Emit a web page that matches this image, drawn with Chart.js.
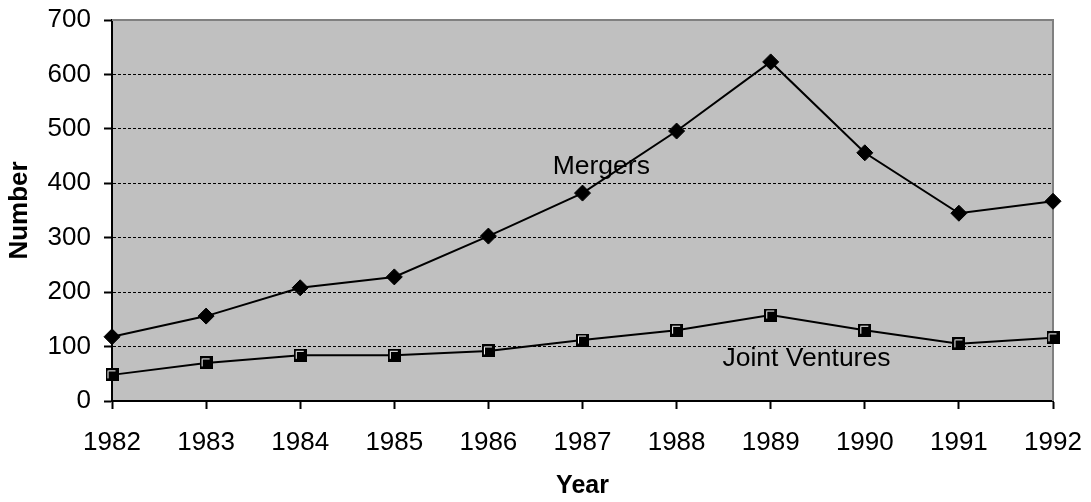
<!DOCTYPE html>
<html>
<head>
<meta charset="utf-8">
<script src="https://cdn.jsdelivr.net/npm/chart.js@4"></script>
<style>
  html, body { margin: 0; padding: 0; background: #fff; }
  #wrap { width: 1091px; height: 502px; }
</style>
</head>
<body>
<div id="wrap"><canvas id="chart" width="1091" height="502"></canvas></div>
<script>
// data
const years = ["1982", "1983", "1984", "1985", "1986", "1987", "1988", "1989", "1990", "1991", "1992"];
const mergers = [118, 156, 208, 228, 303, 382, 496, 623, 456, 345, 367];
const jointVentures = [48, 70, 84, 84, 92, 112, 130, 158, 130, 105, 116];
const yTicks = [0, 100, 200, 300, 400, 500, 600, 700];

// in-plot labels: [text, category index, value]
const seriesLabels = [
    ["Mergers", 5.2, 430],
    ["Joint Ventures", 7.38, 77]
];

const FONT = "Arial, 'Liberation Sans', sans-serif";

// square marker: black box with a white inner corner line
function squareMarker() {
    const c = document.createElement("canvas");
    c.width = 13;
    c.height = 13;
    const g = c.getContext("2d");
    g.fillStyle = "#000";
    g.fillRect(0, 0, 13, 13);
    g.strokeStyle = "#fff";
    g.lineWidth = 1;
    g.beginPath();
    g.moveTo(2.5, 10);
    g.lineTo(2.5, 2.5);
    g.lineTo(10, 2.5);
    g.stroke();
    return c;
}

const plotArea = {
    id: "plotArea",
    beforeDraw(chart) {
        const a = chart.chartArea;
        const ctx = chart.ctx;
        ctx.save();
        ctx.fillStyle = "#c0c0c0";
        ctx.fillRect(a.left, a.top, a.right - a.left, a.bottom - a.top);
        ctx.restore();
    },
    beforeDatasetsDraw(chart) {
        const a = chart.chartArea;
        const ctx = chart.ctx;
        ctx.save();
        ctx.strokeStyle = "#808080";
        ctx.lineWidth = 2;
        ctx.beginPath();
        ctx.moveTo(a.left, a.top);
        ctx.lineTo(a.right, a.top);
        ctx.lineTo(a.right, a.bottom);
        ctx.stroke();
        ctx.restore();
    },
    afterDatasetsDraw(chart) {
        const ctx = chart.ctx;
        const xs = chart.scales.x, ys = chart.scales.y;
        ctx.save();
        ctx.fillStyle = "#000";
        ctx.font = "26.5px " + FONT;
        ctx.textAlign = "center";
        ctx.textBaseline = "middle";
        seriesLabels.forEach(function(l) {
            ctx.fillText(l[0], xs.getPixelForValue(l[1]), ys.getPixelForValue(l[2]));
        });
        ctx.restore();
    }
};

const ctx = document.getElementById("chart").getContext("2d");

const data = {
    labels: years,
    datasets: [
        {
            label: "Mergers",
            data: mergers,
            borderColor: "#000",
            backgroundColor: "#000",
            borderWidth: 2,
            pointStyle: "rectRot",
            pointRadius: 8,
            pointBorderWidth: 1,
            tension: 0
        },
        {
            label: "Joint Ventures",
            data: jointVentures,
            borderColor: "#000",
            backgroundColor: "#000",
            borderWidth: 2,
            pointStyle: squareMarker(),
            pointRadius: 7,
            tension: 0
        }
    ]
};

const options = {
    responsive: false,
    animation: false,
    layout: { padding: { left: 0, right: 38, top: 20, bottom: 0 } },
    plugins: {
        legend: { display: false },
        tooltip: { enabled: false }
    },
    scales: {
        x: {
            type: "category",
            offset: false,
            afterFit: function(s) {
                s.height = 101;
                s.paddingLeft = 0;
                s.paddingRight = 0;
            },
            grid: {
                drawOnChartArea: false,
                drawTicks: true,
                tickLength: 8,
                tickWidth: 2,
                tickColor: "#000",
                offset: false
            },
            border: { display: true, color: "#000", width: 2 },
            ticks: {
                color: "#000",
                font: { family: FONT, size: 26 },
                padding: 18,
                maxRotation: 0,
                autoSkip: false
            },
            title: {
                display: true,
                text: "Year",
                color: "#000",
                font: { family: FONT, size: 25, weight: "bold" },
                padding: { top: 0, bottom: 1 }
            }
        },
        y: {
            min: 0,
            max: 700,
            afterFit: function(s) {
                s.width = 112;
                s.paddingTop = 0;
                s.paddingBottom = 0;
            },
            afterBuildTicks: function(s) { s.ticks = yTicks.map(function(v) { return { value: v }; }); },
            grid: {
                color: function(c) {
                    const v = c.tick ? c.tick.value : 0;
                    return (v === 0 || v === 700) ? "rgba(0,0,0,0)" : "#000";
                },
                lineWidth: 1,
                drawTicks: true,
                tickLength: 8,
                tickWidth: 2,
                tickColor: "#000",
                tickBorderDash: []
            },
            border: { display: true, color: "#000", width: 2, dash: [3, 2] },
            ticks: {
                color: "#000",
                font: { family: FONT, size: 26 },
                padding: 13
            },
            title: {
                display: true,
                text: "Number",
                color: "#000",
                font: { family: FONT, size: 26, weight: "bold" },
                padding: { top: 4, bottom: 0 }
            }
        }
    }
};

const progressChart = new Chart(ctx, {
    type: "line",
    data: data,
    options: options,
    plugins: [plotArea]
});
</script>
</body>
</html>
